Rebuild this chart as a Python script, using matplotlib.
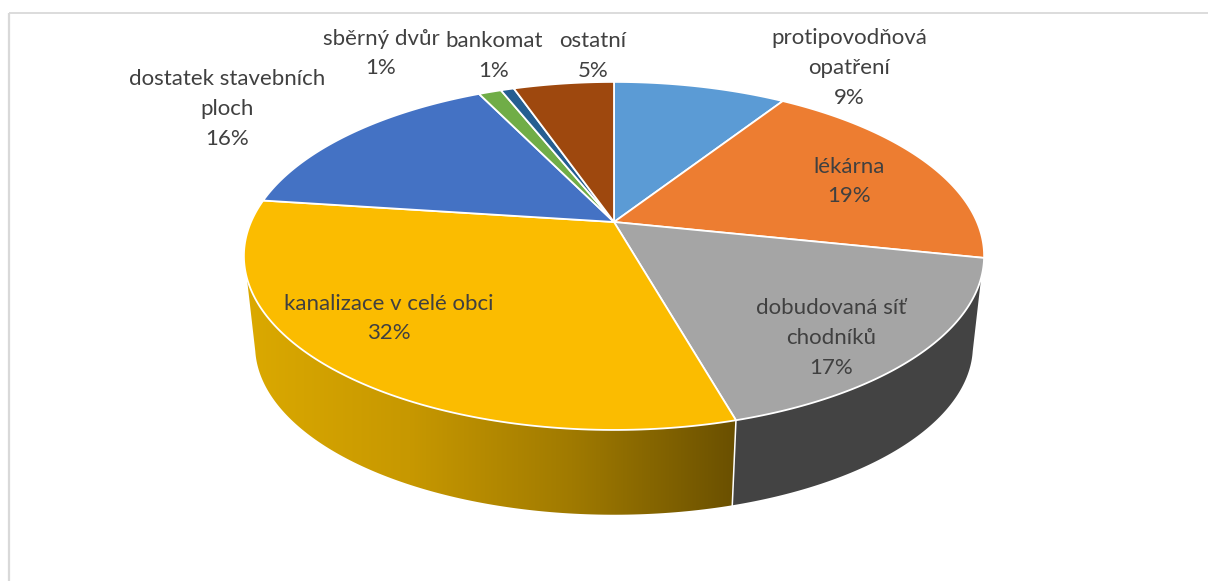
"""
3D pie chart: what the village is missing (perspective drawn by hand)
"""

import numpy as np
import matplotlib
matplotlib.use("Agg")
import matplotlib.pyplot as plt
from matplotlib.colors import LinearSegmentedColormap
from matplotlib.patches import Polygon

labels = ["protipovodňová\nopatření", "lékárna", "dobudovaná síť\nchodníků",
          "kanalizace v celé obci", "dostatek stavebních\nploch", "sběrný dvůr",
          "bankomat", "ostatní"]
values = [9.1, 19.2, 17.3, 31.5, 15.7, 1.2, 0.7, 5.3]
colors = ["#5B9BD5", "#ED7D31", "#A5A5A5", "#FBBC00", "#4472C4", "#70AD47", "#255E91", "#9E480E"]

# label centres in pixels
label_x = [849, 849, 831, 389, 227, 381, 494, 593]
label_y = [68, 181.5, 338, 318.5, 109, 53.5, 56, 56]

plt.rcParams["font.family"] = ["Lato", "DejaVu Sans"]

fig = plt.figure(figsize=(12.08, 5.81), dpi=100, facecolor="white")
ax = fig.add_axes([0, 0, 1, 1])
ax.set_xlim(0, 1208)
ax.set_ylim(581, 0)
ax.axis("off")

# projection of a circle seen at an angle
CX = 614
K = 0.195


def rim(theta, a, b, cy):
    # theta in degrees, clockwise from the top
    t = np.radians(theta)
    u, v = np.sin(t), np.cos(t)
    d = 1 + K * v
    return np.column_stack([CX + a * u / d, cy - b * v / d])


def top(theta):
    return rim(theta, 363, 167.4, 222)


def bottom(theta):
    return rim(theta, 352, 162.4, 313)


angles = np.concatenate([[0], np.cumsum(values)]) * 3.6
split = angles[3]


def side(t0_top, t1_top, t0_bot, t1_bot, zorder):
    a = top(np.linspace(t0_top, t1_top, 120))
    b = bottom(np.linspace(t1_bot, t0_bot, 120))
    return Polygon(np.vstack([a, b]), closed=True, transform=ax.transData,
                   facecolor="none", edgecolor="none", zorder=zorder)


# yellow side with the gradient
yellow_cmap = LinearSegmentedColormap.from_list("y", ["#DBA900", "#C79800", "#A07A00", "#6A5000"])
yellow_side = side(split, 251.7, split, 257, 1)
ax.add_patch(yellow_side)
img = ax.imshow(np.linspace(0, 1, 256).reshape(1, -1), cmap=yellow_cmap, aspect="auto",
                extent=(246, 736, 520, 250), zorder=1)
img.set_clip_path(yellow_side)

# grey side
grey_side = side(108.3, split, 103, split, 1)
grey_side.set_facecolor("#434343")
ax.add_patch(grey_side)

# separator on the side
sep_top = top(split)[0]
sep_bot = bottom(split)[0]
ax.plot([sep_top[0], sep_bot[0]], [sep_top[1], sep_bot[1]], color="white", lw=1.1, zorder=2)

ax.set_xlim(0, 1208)
ax.set_ylim(581, 0)

# top face
for i, color in enumerate(colors):
    arc = top(np.linspace(angles[i], angles[i + 1], 120))
    pts = np.vstack([[[CX, 222]], arc])
    ax.add_patch(Polygon(pts, closed=True, facecolor=color, edgecolor="white",
                         linewidth=1.3, joinstyle="round", zorder=3))

# data labels
for i, name in enumerate(labels):
    ax.text(label_x[i], label_y[i], f"{name}\n{values[i]:.0f}%", ha="center", va="center",
            fontsize=16, color="#404040", linespacing=1.62, zorder=5)

# frame of the chart area
ax.plot([8.5, 8.5], [581, 12.5], color="#D9D9D9", lw=1.6, zorder=0, solid_capstyle="butt")
ax.plot([8.5, 1208], [12.5, 12.5], color="#D9D9D9", lw=1.3, zorder=0, solid_capstyle="butt")

plt.savefig("out.png", dpi=100)
plt.close()
